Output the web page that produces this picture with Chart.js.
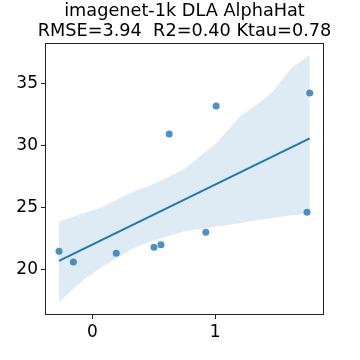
<!DOCTYPE html>
<html>
<head>
<meta charset="utf-8">
<script src="https://cdn.jsdelivr.net/npm/chart.js@4.4.1/dist/chart.umd.min.js"></script>
<style>
  html, body { margin: 0; padding: 0; background: #ffffff; }
  #wrap { position: relative; width: 360px; height: 360px; }
  #title {
    position: absolute; left: 35px; width: 299px; top: 0px;
    text-align: center; font-family: "DejaVu Sans", sans-serif;
    font-size: 17.7px; line-height: 20px; color: #000; white-space: nowrap;
  }
</style>
</head>
<body>
<div id="wrap">
  <canvas id="chart" width="360" height="360"></canvas>
  <div id="title">imagenet-1k DLA AlphaHat<br>RMSE=3.94&nbsp; R2=0.40 Ktau=0.78</div>
</div>
<script>
// 산점도 데이터
const pointX = [-0.271, -0.154, 0.195, 0.502, 0.559, 0.626, 0.924, 1.008, 1.748, 1.770];
const pointY = [21.46, 20.59, 21.29, 21.78, 21.97, 30.92, 22.99, 33.19, 24.61, 34.24];

// 회귀선 양 끝
const fitX = [-0.271, 1.770];
const fitY = [20.68, 30.58];

// 신뢰구간 밴드
const bandX = [-0.271, -0.073, 0.063, 0.198, 0.333, 0.469, 0.740, 1.011, 1.201, 1.282, 1.337, 1.472, 1.607, 1.770];
const bandUpper = [23.85, 24.53, 24.94, 25.61, 26.28, 26.74, 28.03, 30.19, 32.35, 32.9, 33.29, 34.37, 36.12, 37.34];
const bandLower = [17.38, 19.13, 20.08, 20.89, 21.70, 22.21, 23.04, 23.45, 23.72, 23.85, 23.95, 24.13, 24.35, 24.53];

const xTicks = [0, 1];
const yTicks = [20, 25, 30, 35];

const toXY = (xs, ys) => xs.map((x, i) => ({ x, y: ys[i] }));

// 축 테두리
const frame = {
  id: "frame",
  afterDraw(chart) {
    const { ctx, chartArea: a } = chart;
    ctx.save();
    ctx.strokeStyle = "#222222";
    ctx.lineWidth = 1;
    ctx.strokeRect(a.left + 0.5, a.top + 0.5, a.right - a.left - 1, a.bottom - a.top - 1);
    ctx.restore();
  }
};

const tickFont = { family: "DejaVu Sans", size: 17 };

new Chart(document.getElementById("chart"), {
  type: "scatter",
  data: {
    datasets: [
      {
        data: toXY(pointX, pointY),
        backgroundColor: "rgba(31,119,180,0.8)",
        borderWidth: 0,
        pointRadius: 3.5,
        order: 0
      },
      {
        type: "line",
        data: toXY(fitX, fitY),
        borderColor: "#1f77b4",
        borderWidth: 2,
        pointRadius: 0,
        fill: false,
        order: 1
      },
      {
        type: "line",
        data: toXY(bandX, bandUpper),
        borderWidth: 0,
        pointRadius: 0,
        backgroundColor: "rgba(31,119,180,0.15)",
        fill: "+1",
        order: 2
      },
      {
        type: "line",
        data: toXY(bandX, bandLower),
        borderWidth: 0,
        pointRadius: 0,
        fill: false,
        order: 3
      }
    ]
  },
  options: {
    responsive: false,
    animation: false,
    layout: { padding: { top: 43, right: 36, left: 0, bottom: 0 } },
    plugins: {
      legend: { display: false },
      tooltip: { enabled: false },
      title: { display: false }
    },
    scales: {
      x: {
        type: "linear",
        min: -0.385,
        max: 1.886,
        afterBuildTicks: (s) => { s.ticks = xTicks.map((v) => ({ value: v })); },
        afterFit: (s) => { s.height = 45; },
        border: { display: false },
        grid: { drawOnChartArea: false, tickLength: 4, color: "#222222" },
        ticks: { color: "#000000", font: tickFont, padding: 3, maxRotation: 0 }
      },
      y: {
        type: "linear",
        min: 16.30,
        max: 38.28,
        afterBuildTicks: (s) => { s.ticks = yTicks.map((v) => ({ value: v })); },
        afterFit: (s) => { s.width = 45; },
        border: { display: false },
        grid: { drawOnChartArea: false, tickLength: 4, color: "#222222" },
        ticks: { color: "#000000", font: tickFont, padding: 3 }
      }
    }
  },
  plugins: [frame]
});
</script>
</body>
</html>
